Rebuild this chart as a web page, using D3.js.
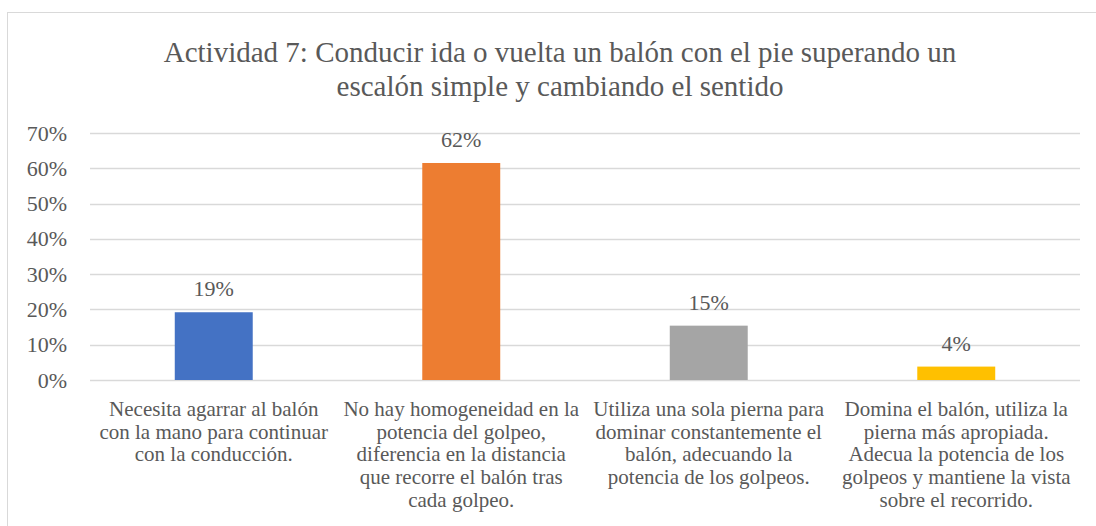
<!DOCTYPE html>
<html>
<head>
<meta charset="utf-8">
<script src="https://cdn.jsdelivr.net/npm/d3@7"></script>
<style>
  body { margin: 0; background: #fff; }
  text { font-family: "Liberation Serif", "Times New Roman", serif; fill: #595959; }
</style>
</head>
<body>
<div id="chart"></div>
<script>
const titleLines = [
    "Actividad 7: Conducir ida o vuelta un balón con el pie superando un",
    "escalón simple y cambiando el sentido"
];
const categories = [
    "Necesita agarrar al balón\ncon la mano para continuar\ncon la conducción.",
    "No hay homogeneidad en la\npotencia del golpeo,\ndiferencia en la distancia\nque recorre el balón tras\ncada golpeo.",
    "Utiliza una sola pierna para\ndominar constantemente el\nbalón, adecuando la\npotencia de los golpeos.",
    "Domina el balón, utiliza la\npierna más apropiada.\nAdecua la potencia de los\ngolpeos y mantiene la vista\nsobre el recorrido."
];
const values = [0.192, 0.615, 0.154, 0.038];
const colors = ["#4472C4", "#ED7D31", "#A5A5A5", "#FFC000"];
const yTicks = [0, 0.1, 0.2, 0.3, 0.4, 0.5, 0.6, 0.7];

const width = 1096, height = 526;
const svg = d3.select("#chart").append("svg")
    .attr("width", width)
    .attr("height", height);

// chart frame
svg.append("rect")
    .attr("x", 7.5).attr("y", 12.5)
    .attr("width", width + 10).attr("height", height + 10)
    .attr("fill", "none").attr("stroke", "#D9D9D9");

svg.selectAll(".title")
    .data(titleLines)
    .join("text")
    .attr("class", "title")
    .attr("x", 560)
    .attr("y", (d, i) => 62 + i * 34)
    .attr("text-anchor", "middle")
    .attr("font-size", 29)
    .text(d => d);

const x = d3.scaleBand()
    .domain(d3.range(categories.length))
    .range([90, 1080])
    .paddingInner(0.685)
    .paddingOuter(0.3425);

const y = d3.scaleLinear()
    .domain([0, 0.7])
    .range([380, 133]);

svg.append("g")
    .selectAll("line")
    .data(yTicks)
    .join("line")
    .attr("x1", 90).attr("x2", 1080)
    .attr("y1", d => Math.round(y(d)) + 0.5)
    .attr("y2", d => Math.round(y(d)) + 0.5)
    .attr("stroke", "#D9D9D9")
    .attr("stroke-width", 1.3);

svg.append("g")
    .selectAll("text")
    .data(yTicks)
    .join("text")
    .attr("x", 67)
    .attr("y", d => y(d) + 7.5)
    .attr("text-anchor", "end")
    .attr("font-size", 22)
    .text(d => d3.format(".0%")(d));

svg.append("g")
    .selectAll("rect")
    .data(values)
    .join("rect")
    .attr("x", (d, i) => x(i))
    .attr("width", x.bandwidth())
    .attr("y", d => y(d))
    .attr("height", d => y(0) - y(d))
    .attr("fill", (d, i) => colors[i]);

svg.append("g")
    .selectAll("text")
    .data(values)
    .join("text")
    .attr("x", (d, i) => x(i) + x.bandwidth() / 2)
    .attr("y", d => y(d) - 16)
    .attr("text-anchor", "middle")
    .attr("font-size", 22)
    .text(d => d3.format(".0%")(d));

const labels = svg.append("g")
    .selectAll("text")
    .data(categories)
    .join("text")
    .attr("text-anchor", "middle")
    .attr("font-size", 21);

labels.each(function(d, i) {
    const cx = x(i) + x.bandwidth() / 2;
    d3.select(this).selectAll("tspan")
        .data(d.split("\n"))
        .join("tspan")
        .attr("x", cx)
        .attr("y", (t, j) => 416 + j * 22.7)
        .text(t => t);
});
</script>
</body>
</html>
